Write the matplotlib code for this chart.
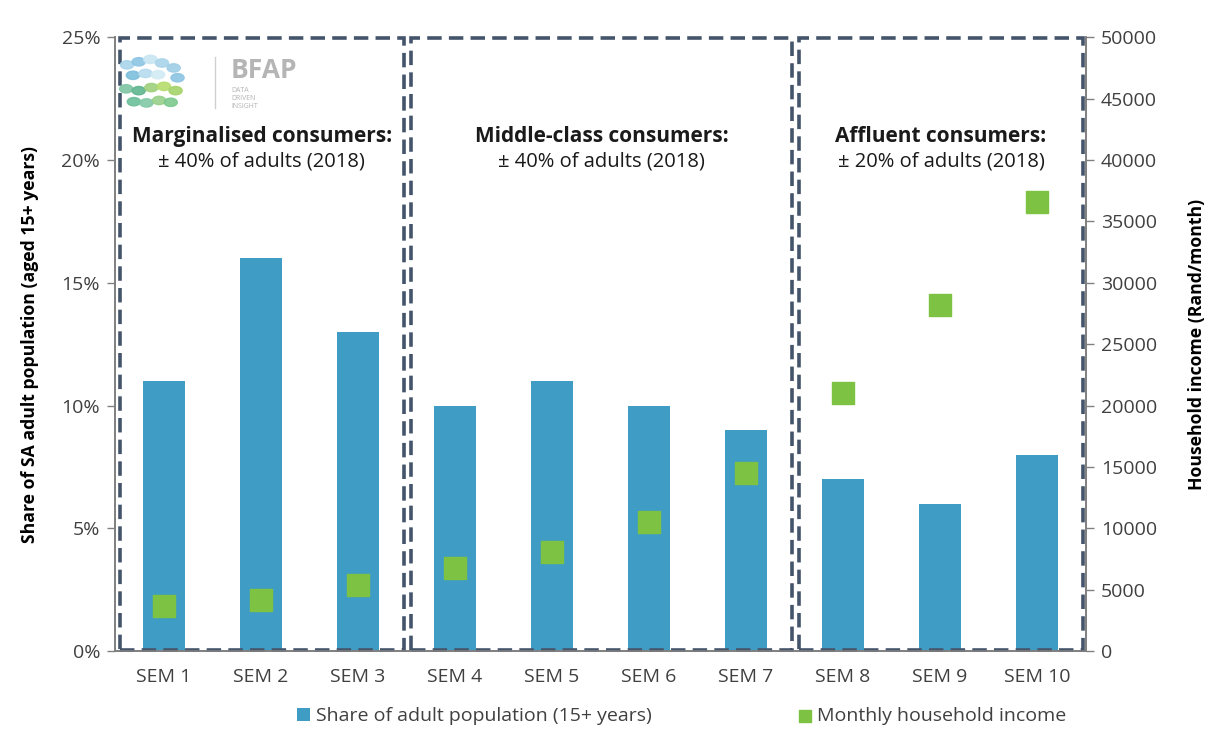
import matplotlib.pyplot as plt
from matplotlib.patches import Rectangle, Circle
from matplotlib.ticker import FuncFormatter

categories = ['SEM 1', 'SEM 2', 'SEM 3', 'SEM 4', 'SEM 5',
              'SEM 6', 'SEM 7', 'SEM 8', 'SEM 9', 'SEM 10']
share = [11, 16, 13, 10, 11, 10, 9, 7, 6, 8]
income = [3700, 4200, 5400, 6800, 8100, 10500, 14500, 21000, 28200, 36600]

groups = ['Marginalised consumers:', 'Middle-class consumers:', 'Affluent consumers:']
group_notes = ['± 40% of adults (2018)', '± 40% of adults (2018)', '± 20% of adults (2018)']
group_ranges = [(0, 2), (3, 6), (7, 9)]

plt.rcParams['font.family'] = ['Open Sans', 'DejaVu Sans']
text_col = '#404040'
bar_col = '#3f9cc4'
green = '#7dc242'
box_col = '#44546a'

fig = plt.figure(figsize=(12.28, 7.30), dpi=100)
ax = fig.add_axes([0.094, 0.108, 0.790, 0.841])
ax2 = ax.twinx()

x = range(len(categories))
ax.bar(x, share, width=0.43, color=bar_col, zorder=2,
       label='Share of adult population (15+ years)')
ax2.scatter(x, income, marker='s', s=230, color=green, zorder=3,
            label='Monthly household income')

ax.set_xlim(-0.5, 9.5)
ax.set_ylim(0, 25)
ax.set_yticks(range(0, 26, 5))
ax.yaxis.set_major_formatter(FuncFormatter(lambda v, p: f'{v:.0f}%'))
ax2.set_ylim(0, 50000)
ax2.set_yticks(range(0, 50001, 5000))

ax.set_xticks(list(x))
ax.set_xticklabels(categories)
ax.tick_params(axis='x', length=0, pad=12, labelsize=14, labelcolor=text_col)
ax.tick_params(axis='y', length=6, width=1, color='#808080', labelsize=14,
               labelcolor=text_col, pad=5)
ax2.tick_params(axis='y', length=6, width=1, color='#808080', labelsize=14,
                labelcolor=text_col, pad=5)

for a in (ax, ax2):
    a.spines['top'].set_visible(False)
    for s in ('left', 'right', 'bottom'):
        a.spines[s].set_color('#7f7f7f')
        a.spines[s].set_linewidth(1.2)

ax.set_ylabel('Share of SA adult population (aged 15+ years)', fontsize=12.7,
              fontweight='bold', color='black', labelpad=16)
ax2.set_ylabel('Household income (Rand/month)', fontsize=12.7,
               fontweight='bold', color='black', labelpad=22)

# dashed group boxes
for (lo, hi), title, note in zip(group_ranges, groups, group_notes):
    left = lo - 0.45
    right = hi + 0.47
    rect = Rectangle((left, 0.05), right - left, 24.9, fill=False,
                     edgecolor=box_col, linewidth=2.6, linestyle=(0, (4, 2)),
                     zorder=4, clip_on=False)
    ax.add_patch(rect)
    cx = (left + right) / 2
    ax.text(cx, 20.95, title, ha='center', va='center', fontsize=15,
            fontweight='bold', color='#1a1a1a', zorder=5)
    ax.text(cx, 19.95, note, ha='center', va='center', fontsize=14.5,
            color='#1a1a1a', zorder=5)

# logo
logo_dots = [(0.012, 0.955, '#a9d4ea'), (0.024, 0.960, '#8cc5e3'), (0.036, 0.964, '#c9e6f2'),
             (0.048, 0.958, '#a9d4ea'), (0.060, 0.950, '#9fcde6'), (0.018, 0.938, '#7cbfdc'),
             (0.031, 0.941, '#b7dcee'), (0.044, 0.939, '#d2ebf4'), (0.064, 0.934, '#8cc5e3'),
             (0.011, 0.916, '#7fc6a4'), (0.024, 0.913, '#5fb58f'), (0.037, 0.918, '#9ed07c'),
             (0.050, 0.920, '#b6dc6a'), (0.062, 0.913, '#a5d36a'), (0.019, 0.895, '#6cbf9a'),
             (0.032, 0.893, '#82c9a5'), (0.045, 0.897, '#98d08a'), (0.057, 0.894, '#7cc98e')]
for px, py, c in logo_dots:
    ax.add_patch(Circle((px, py), 0.0068, transform=ax.transAxes, color=c,
                        zorder=5, alpha=0.9))
ax.plot([0.103, 0.103], [0.885, 0.968], transform=ax.transAxes, color='#d0d0d0',
        lw=1, zorder=5)
ax.text(0.119, 0.945, 'BFAP', transform=ax.transAxes, fontsize=19,
        fontweight='bold', color='#b5b5b5', ha='left', va='center', zorder=5)
ax.text(0.119, 0.900, 'DATA\nDRIVEN\nINSIGHT', transform=ax.transAxes,
        fontsize=5, color='#b5b5b5', ha='left', va='center',
        linespacing=1.2, zorder=5)

h1, l1 = ax.get_legend_handles_labels()
h2, l2 = ax2.get_legend_handles_labels()
fig.legend(h1 + h2, l1 + l2, loc='center', bbox_to_anchor=(0.555, 0.019),
           ncol=2, frameon=False, fontsize=14, labelcolor=text_col,
           handlelength=0.7, handleheight=0.7, handletextpad=0.3,
           columnspacing=7.5, markerscale=0.55)

fig.savefig('out.png', dpi=100)
